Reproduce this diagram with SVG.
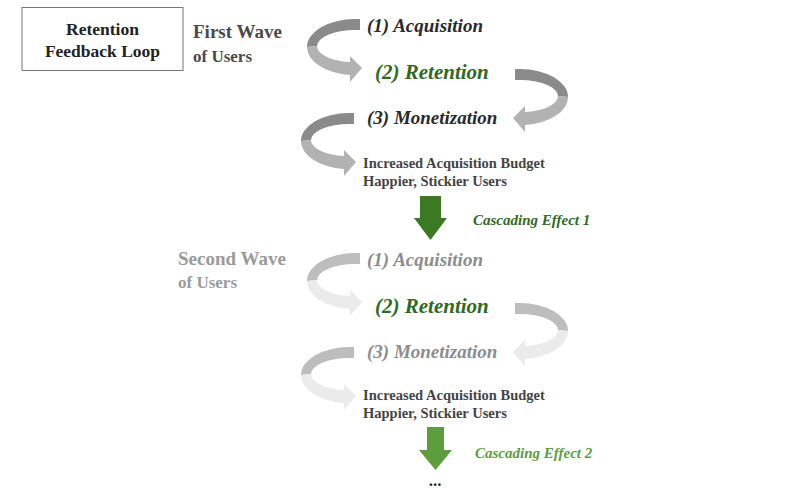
<svg xmlns="http://www.w3.org/2000/svg" width="800" height="497" viewBox="0 0 800 497">
<style>
text{font-family:"Liberation Serif","Times New Roman",serif;}
.title{font-size:17.5px;font-weight:bold;fill:#222;text-anchor:middle;}
.wave1{font-size:19px;font-weight:bold;fill:#4a4a4a;}
.wave2{font-size:19px;font-weight:bold;fill:#9a9a9a;}
.step{font-size:19px;font-weight:bold;font-style:italic;fill:#2a2a2a;}
.step2{font-size:19px;font-weight:bold;font-style:italic;fill:#8c8c8c;}
.ret{font-size:21px;font-weight:bold;font-style:italic;fill:#2d6a1f;}
.out{font-size:14.5px;font-weight:bold;fill:#444;}
.casc1{font-size:15px;font-weight:bold;font-style:italic;fill:#2e6b1e;}
.casc2{font-size:15px;font-weight:bold;font-style:italic;fill:#5a9e3a;}
.t1{fill:#8a8a8a;}.b1{fill:#b2b2b2;}
.t2{fill:#bdbdbd;}.b2{fill:#ebebeb;}
</style>
<defs>
<path id="rtop" d="M5,-28 L0,-28 A48,28 0 0 0 -48,0 L-38,-1 A38,16 0 0 1 0,-17 L5,-17 Z"/>
<path id="rbot" d="M-48,0 A48,28 0 0 0 -5,28 L-5,35 L7,21 L-5,9 L-5,15 A38,16 0 0 1 -38,-1 Z"/>
</defs>
<g id="title">
<rect x="22" y="7.5" width="161" height="63" fill="#fff" stroke="#777" stroke-width="1"/>
<text class="title" x="102.5" y="35">Retention</text>
<text class="title" x="102.5" y="57">Feedback Loop</text>
</g>
<g id="connectors">
<g id="loop1-a"><use href="#rtop" class="t1" transform="translate(355,47)"/><use href="#rbot" class="b1" transform="translate(355,47)"/></g>
<g id="loop1-b"><use href="#rtop" class="t1" transform="translate(520,97) scale(-1,1)"/><use href="#rbot" class="b1" transform="translate(520,97) scale(-1,1)"/></g>
<g id="loop1-c"><use href="#rtop" class="t1" transform="translate(349,141)"/><use href="#rbot" class="b1" transform="translate(349,141)"/></g>
<g id="loop2-a"><use href="#rtop" class="t2" transform="translate(355,281)"/><use href="#rbot" class="b2" transform="translate(355,281)"/></g>
<g id="loop2-b"><use href="#rtop" class="t2" transform="translate(520,331) scale(-1,1)"/><use href="#rbot" class="b2" transform="translate(520,331) scale(-1,1)"/></g>
<g id="loop2-c"><use href="#rtop" class="t2" transform="translate(349,375)"/><use href="#rbot" class="b2" transform="translate(349,375)"/></g>
<polygon id="cascade1-arrow" points="420,196 441,196 441,218 447,218 430.5,240 414,218 420,218" fill="#3c7a22"/>
<polygon id="cascade2-arrow" points="427,427 444,427 444,450 452,450 435.5,470 419,450 427,450" fill="#5c9e3c"/>
</g>
<g id="wave1-label"><text class="wave1" x="193" y="38">First Wave</text><text class="wave1" x="193" y="62" style="font-size:17px">of Users</text></g>
<g id="acq1"><text class="step" x="367" y="32">(1) Acquisition</text></g>
<g id="ret1"><text class="ret" x="375" y="79">(2) Retention</text></g>
<g id="mon1"><text class="step" x="367" y="124">(3) Monetization</text></g>
<g id="out1"><text class="out" x="363" y="168">Increased Acquisition Budget</text><text class="out" x="363" y="186">Happier, Stickier Users</text></g>
<g id="casc1"><text class="casc1" x="473" y="225">Cascading Effect 1</text></g>
<g id="wave2-label"><text class="wave2" x="178" y="265">Second Wave</text><text class="wave2" x="178" y="288" style="font-size:17px">of Users</text></g>
<g id="acq2"><text class="step2" x="367" y="266">(1) Acquisition</text></g>
<g id="ret2"><text class="ret" x="375" y="313">(2) Retention</text></g>
<g id="mon2"><text class="step2" x="367" y="358">(3) Monetization</text></g>
<g id="out2"><text class="out" x="363" y="400">Increased Acquisition Budget</text><text class="out" x="363" y="418">Happier, Stickier Users</text></g>
<g id="casc2"><text class="casc2" x="475" y="458">Cascading Effect 2</text></g>
<g id="more"><text x="435" y="486" style="font-size:17px;font-weight:bold;fill:#222;text-anchor:middle">...</text></g>
</svg>
